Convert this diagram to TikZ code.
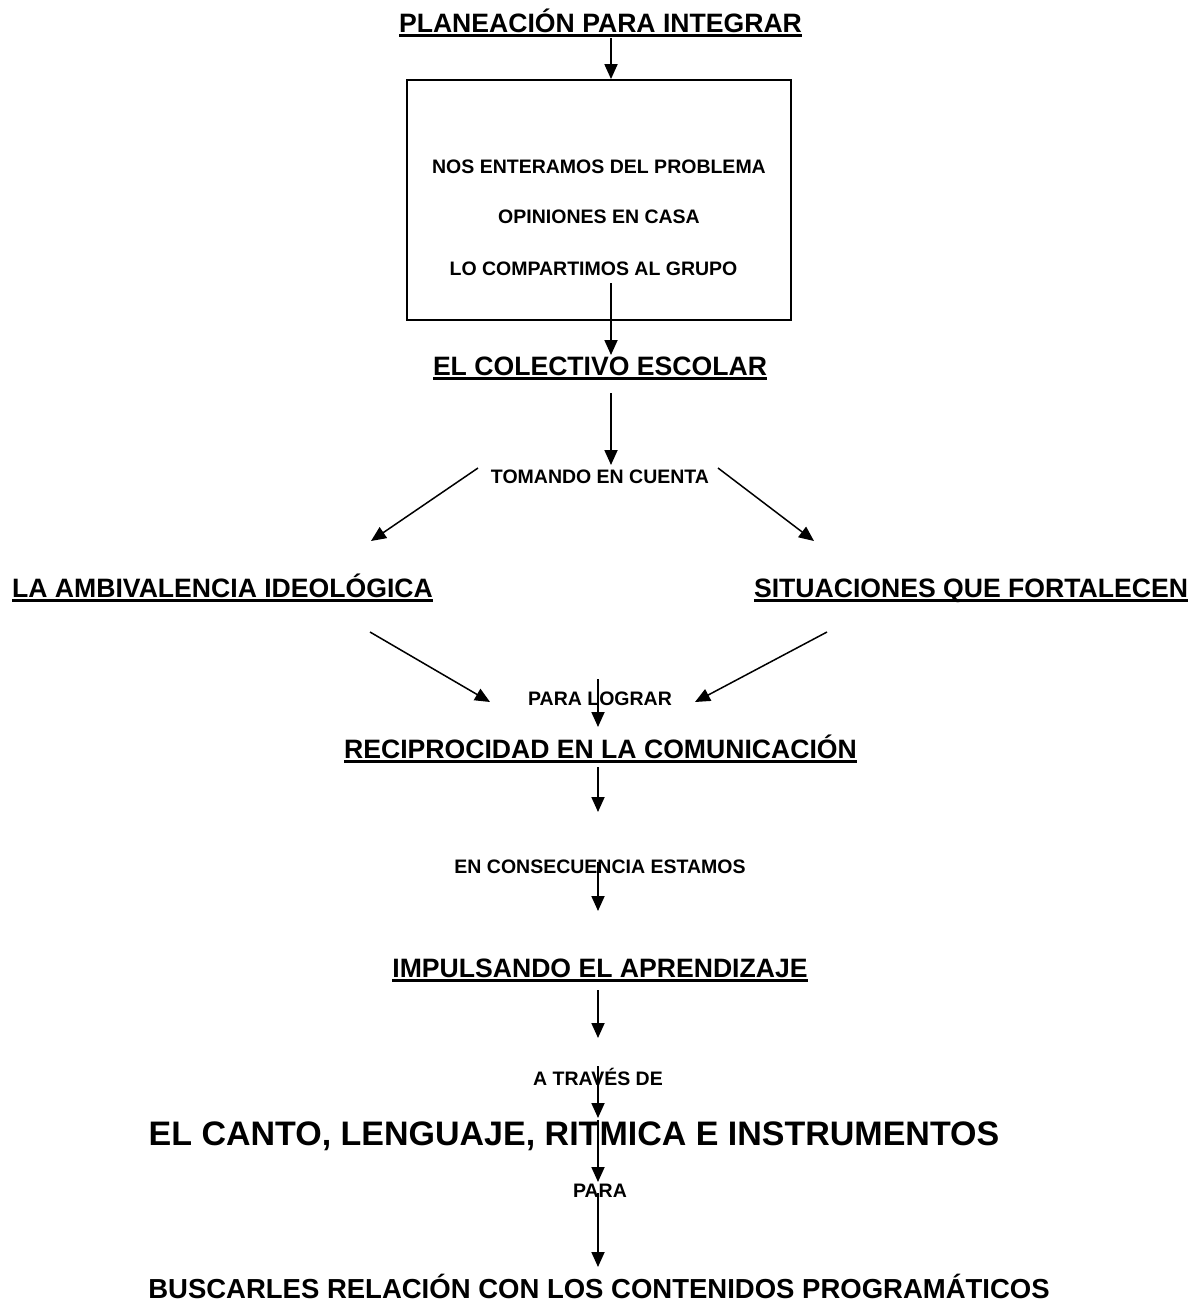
\documentclass[tikz,border=0pt]{standalone}
\usepackage{fontspec}
\setmainfont{Liberation Sans}
\usetikzlibrary{arrows.meta}
\newsavebox{\ulsave}
\newcommand{\ulbox}[1]{\sbox{\ulsave}{#1}\rlap{\rule[-4.6pt]{\wd\ulsave}{2.8pt}}\usebox{\ulsave}}

\begin{document}
\begin{tikzpicture}[x=1pt,y=-1pt]
\tikzset{
  headnode/.style={anchor=base,inner sep=0pt,font=\fontsize{26.6}{30}\selectfont\bfseries},
  smallnode/.style={anchor=base,inner sep=0pt,font=\fontsize{19.5}{23}\selectfont\bfseries},
  bignode/.style={anchor=base,inner sep=0pt,font=\fontsize{34}{40}\selectfont\bfseries},
  endnode/.style={anchor=base,inner sep=0pt,font=\fontsize{27.5}{32}\selectfont\bfseries},
  framenode/.style={draw=black,line width=1.8pt,minimum width=384pt,minimum height=240pt,inner sep=0pt},
  flowedge/.style={draw=black,line width=1.8pt},
  flowarrow/.style={flowedge,-{Triangle[length=15pt,width=13pt]}},
  slantarrow/.style={flowedge,line width=1.5pt,-{Triangle[length=15pt,width=13pt]}}
}
\useasboundingbox (0,0) rectangle (1199,1307);
\node[headnode] (n_title) at (600.5,32) {\ulbox{PLANEACIÓN PARA INTEGRAR}};
\node[framenode] (n_frame) at (599,200) {};
\node[smallnode] (n_enteramos) at (599,173) {NOS ENTERAMOS DEL PROBLEMA};
\node[smallnode] (n_opiniones) at (599,223) {OPINIONES EN CASA};
\node[smallnode] (n_compartimos) at (593.5,275) {LO COMPARTIMOS AL GRUPO};
\node[headnode] (n_colectivo) at (600,375) {\ulbox{EL COLECTIVO ESCOLAR}};
\node[smallnode] (n_tomando) at (600,483) {TOMANDO EN CUENTA};
\node[headnode] (n_ambivalencia) at (222.5,597) {\ulbox{LA AMBIVALENCIA IDEOLÓGICA}};
\node[headnode] (n_situaciones) at (971,597) {\ulbox{SITUACIONES QUE FORTALECEN}};
\node[smallnode] (n_lograr) at (600,705) {PARA LOGRAR};
\node[headnode] (n_reciprocidad) at (600.5,758) {\ulbox{RECIPROCIDAD EN LA COMUNICACIÓN}};
\node[smallnode] (n_consecuencia) at (600,873) {EN CONSECUENCIA ESTAMOS};
\node[headnode] (n_impulsando) at (600,977) {\ulbox{IMPULSANDO EL APRENDIZAJE}};
\node[smallnode] (n_traves) at (598,1085) {A TRAVÉS DE};
\node[bignode] (n_canto) at (574,1145) {EL CANTO, LENGUAJE, RITMICA E INSTRUMENTOS};
\node[smallnode] (n_para) at (600,1197) {PARA};
\node[endnode] (n_buscarles) at (599,1298) {BUSCARLES RELACIÓN CON LOS CONTENIDOS PROGRAMÁTICOS};
\coordinate (c_a1) at (611,38);
\coordinate (c_a2s) at (611,283);
\coordinate (c_a2e) at (611,355);
\coordinate (c_a3s) at (611,393);
\coordinate (c_a3e) at (611,465);
\coordinate (c_d1s) at (478,468);
\coordinate (c_d1e) at (371,541);
\coordinate (c_d2s) at (718,468);
\coordinate (c_d2e) at (814,541);
\coordinate (c_d3s) at (370,632);
\coordinate (c_d3e) at (490,702);
\coordinate (c_d4s) at (827,632);
\coordinate (c_d4e) at (695,702);
\coordinate (c_a4s) at (598,679);
\coordinate (c_a4e) at (598,727);
\coordinate (c_a5s) at (598,767);
\coordinate (c_a5e) at (598,812);
\coordinate (c_a6s) at (598,862);
\coordinate (c_a6e) at (598,911);
\coordinate (c_a7s) at (598,990);
\coordinate (c_a7e) at (598,1038);
\coordinate (c_a8s) at (598,1066);
\coordinate (c_a8e) at (598,1118);
\coordinate (c_a9s) at (598,1120);
\coordinate (c_a9e) at (598,1182);
\coordinate (c_a10s) at (598,1193);
\coordinate (c_a10e) at (598,1267);
\draw[flowarrow] (c_a1) -- (c_a1 |- n_frame.north);
\draw[flowarrow] (c_a2s) -- (c_a2e);
\draw[flowarrow] (c_a3s) -- (c_a3e);
\draw[slantarrow] (c_d1s) -- (c_d1e);
\draw[slantarrow] (c_d2s) -- (c_d2e);
\draw[slantarrow] (c_d3s) -- (c_d3e);
\draw[slantarrow] (c_d4s) -- (c_d4e);
\draw[flowarrow] (c_a4s) -- (c_a4e);
\draw[flowarrow] (c_a5s) -- (c_a5e);
\draw[flowarrow] (c_a6s) -- (c_a6e);
\draw[flowarrow] (c_a7s) -- (c_a7e);
\draw[flowarrow] (c_a8s) -- (c_a8e);
\draw[flowarrow] (c_a9s) -- (c_a9e);
\draw[flowarrow] (c_a10s) -- (c_a10e);
\end{tikzpicture}
\end{document}
